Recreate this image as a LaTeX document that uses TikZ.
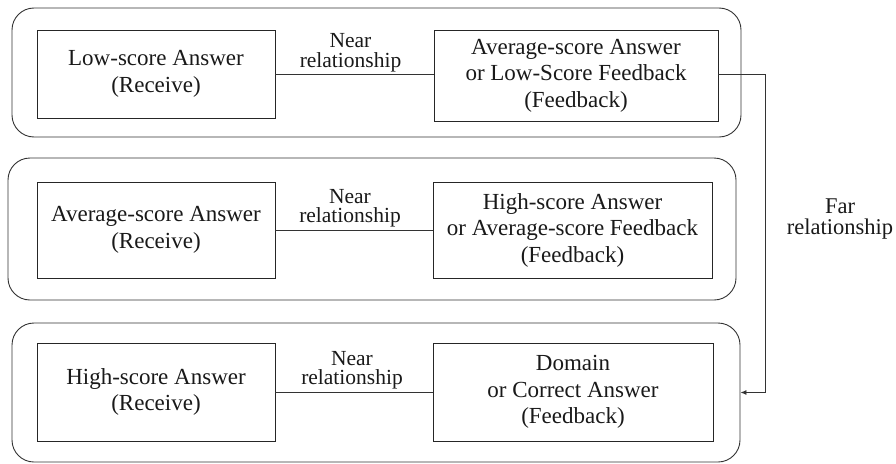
\documentclass[tikz,border=0pt]{standalone}
\usepackage{fontspec}
\setmainfont{Liberation Serif}
\usetikzlibrary{arrows.meta}
\begin{document}
\begin{tikzpicture}[x=1pt,y=-1pt,
  txt/.style={font=\fontsize{23}{26.5}\selectfont, align=center, text=black!90},
  boxnode/.style={txt, draw=black!85, line width=0.9pt, inner sep=0pt, rectangle},
  outerbox/.style={draw=black!80, line width=0.9pt, rounded corners=22pt, rectangle, inner sep=0pt},
  relnode/.style={font=\fontsize{21.5}{19.5}\selectfont, align=center, text=black!90, inner sep=0pt},
  conn/.style={draw=black!80, line width=0.9pt}
]
\useasboundingbox (0,0) rectangle (896,463);
\fill[white] (0,0) rectangle (896,463);

% outer rounded groups
\node[outerbox, minimum width=729pt, minimum height=129pt] (o1) at (376.5,72.5) {};
\node[outerbox, minimum width=728pt, minimum height=142pt] (o2) at (372,229) {};
\node[outerbox, minimum width=728pt, minimum height=139pt] (o3) at (376,392.5) {};

% row 1
\node[boxnode, minimum width=238pt, minimum height=88pt] (l1) at (156,74) {Low-score Answer\\(Receive)};
\node[boxnode, minimum width=284pt, minimum height=91pt] (r1) at (576,75.5) {Average-score Answer\\or Low-Score Feedback\\(Feedback)};
% row 2
\node[boxnode, minimum width=238pt, minimum height=96pt] (l2) at (156,230) {Average-score Answer\\(Receive)};
\node[boxnode, minimum width=279pt, minimum height=96pt] (r2) at (572.5,230) {High-score Answer\\or Average-score Feedback\\(Feedback)};
% row 3
\node[boxnode, minimum width=238pt, minimum height=98pt] (l3) at (156,392) {High-score Answer\\(Receive)};
\node[boxnode, minimum width=280pt, minimum height=98pt] (r3) at (573,392) {Domain\\or Correct Answer\\(Feedback)};

% near relationships
\draw[conn] (l1.east |- 0,74.5) -- (r1.west |- 0,74.5) node[relnode, midway, above=2pt, xshift=-4pt] (n1) {Near\\relationship};
\draw[conn] (l2) -- (r2) node[relnode, midway, above=2pt, xshift=-4pt] (n2) {Near\\relationship};
\draw[conn] (l3) -- (r3) node[relnode, midway, above=2pt, xshift=-2pt] (n3) {Near\\relationship};

% far relationship
\coordinate (fartop) at (765,74);
\draw[conn, -{Latex[length=6pt,width=5pt]}] (r1.east |- fartop) -- (fartop) |- (o3.east);
\node[txt, font=\fontsize{22.5}{21}\selectfont, inner sep=0pt] (far) at (840,219) {Far\\relationship};
\end{tikzpicture}
\end{document}
